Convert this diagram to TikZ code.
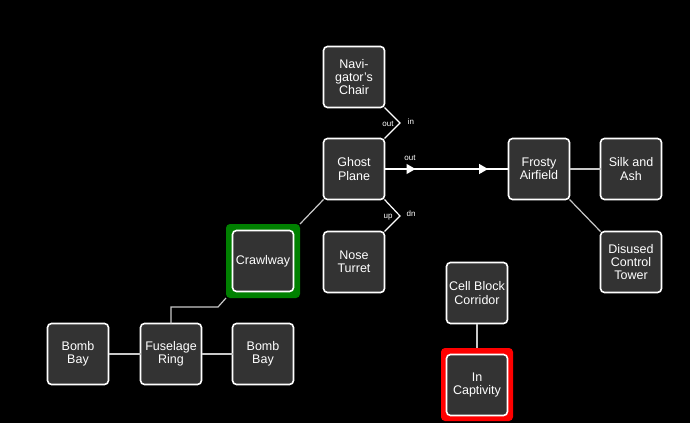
\documentclass[tikz,border=0pt]{standalone}
\usepackage{fontspec}
\setmainfont{Liberation Sans}
\usetikzlibrary{arrows.meta,decorations.markings,calc}
\definecolor{boxfill}{HTML}{333333}
\definecolor{edgegray}{HTML}{C8C8C8}
\definecolor{hlgreen}{HTML}{008000}
\definecolor{hlred}{HTML}{FF0000}
\tikzset{
  room/.style={draw=white, fill=boxfill, line width=1.6pt, rounded corners=4pt,
    minimum width=61pt, minimum height=61pt, inner sep=1pt, outer sep=0pt,
    text=white, align=center, font=\fontsize{12.5}{13.3}\selectfont},
  link/.style={draw=edgegray, line width=1.2pt},
  wlink/.style={draw=white, line width=1.2pt},
  tag/.style={text=white, font=\fontsize{8}{9}\selectfont, inner sep=0pt},
  midarrows/.style={postaction={decorate}, decoration={markings,
    mark=at position 0.25 with {\arrow{Triangle[length=9pt,width=10pt]}},
    mark=at position 0.835 with {\arrow{Triangle[length=9pt,width=10pt]}}}}
}
\begin{document}
\begin{tikzpicture}[x=1pt,y=-1pt]
\fill[black] (0,0) rectangle (690,423);
\useasboundingbox (0,0) rectangle (690,423);
% highlight frames
\fill[hlgreen, rounded corners=4pt] (226,224) rectangle (300,298);
\fill[hlred, rounded corners=4pt] (441,348) rectangle (513,421);
% nodes
\node[room] (nav) at (354,77) {Navi-\\gator's\\Chair};
\node[room] (ghost) at (354,169) {Ghost\\Plane};
\node[room] (nose) at (354,262) {Nose\\Turret};
\node[room] (crawl) at (263,261) {Crawlway};
\node[room] (bbl) at (78,354) {Bomb\\Bay};
\node[room] (fus) at (171,354) {Fuselage\\Ring};
\node[room] (bbr) at (263,354) {Bomb\\Bay};
\node[room] (frosty) at (539,169) {Frosty\\Airfield};
\node[room] (silk) at (631,169) {Silk and\\Ash};
\node[room] (tower) at (631,262) {Disused\\Control\\Tower};
\node[room] (cell) at (477,293) {Cell Block\\Corridor};
\node[room] (capt) at (477,385) {In\\Captivity};
% connectors
\coordinate (z1) at (400,123);
\coordinate (z2) at (400,216);
\coordinate (c1) at (218,307);
\coordinate (c2) at (171,307);
\draw[wlink] (nav.south east) -- (z1) -- (ghost.north east);
\draw[wlink] (ghost.south east) -- (z2) -- (nose.north east);
\draw[wlink, midarrows] (ghost.east) -- (frosty.west);
\draw[link] (ghost.south west) -- (300,224);
\draw[link] (226,298) -- (c1) -- (c2) -- (fus.north);
\draw[link] (bbl.east) -- (fus.west);
\draw[link] (fus.east) -- (bbr.west);
\draw[link] (frosty.east) -- (silk.west);
\draw[link] (frosty.south east) -- (tower.north west);
\draw[link] (cell.south) -- (477,348);
% labels
\node[tag] (l1) at (388,124) {out};
\node[tag] (l2) at (411,122) {in};
\node[tag] (l3) at (410,158) {out};
\node[tag] (l4) at (388,217) {up};
\node[tag] (l5) at (411,214) {dn};
\end{tikzpicture}
\end{document}
